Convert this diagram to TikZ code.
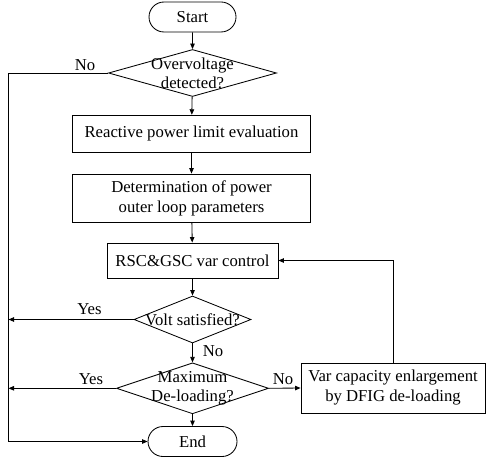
\documentclass[tikz,border=0pt]{standalone}
\usepackage{fontspec}
\setmainfont{Liberation Serif}
\usetikzlibrary{shapes.geometric,shapes.misc,arrows.meta}
\begin{document}
\begin{tikzpicture}[x=1pt,y=-1pt,
  every node/.style={font=\fontsize{16.7}{20}\selectfont},
  line/.style={draw=black,line width=0.85pt},
  arr/.style={line,-{Triangle[length=5.5pt,width=4.5pt]}},
  term/.style={rounded rectangle,draw,line width=0.85pt,inner sep=0pt,minimum width=87pt,minimum height=30pt},
  proc/.style={rectangle,draw,line width=0.85pt,inner sep=0pt,align=center},
  decision/.style={diamond,draw,line width=0.85pt,inner sep=0pt},
  lbl/.style={inner sep=0pt}]
\useasboundingbox (0,0) rectangle (486,457);
\node[term] (start) at (192.5,17) {Start};
\node[decision,minimum width=168pt,minimum height=47pt,
  label={[align=center,inner sep=0pt,font=\fontsize{16.7}{19}\selectfont]center:Overvoltage\\detected?}] (d1) at (192.5,73) {};
\node[proc,minimum width=238pt,minimum height=37pt] (r1) at (191.5,133.7) {Reactive power limit evaluation};
\node[proc,minimum width=238pt,minimum height=48pt] (r2) at (191.5,198) {Determination of power\\outer loop parameters};
\node[proc,minimum width=171pt,minimum height=35pt] (r3) at (192.5,260.5) {RSC\&GSC var control};
\node[decision,minimum width=117pt,minimum height=47pt,
  label={[inner sep=0pt]center:Volt satisfied?}] (d2) at (192.5,319.5) {};
\node[decision,minimum width=152pt,minimum height=51pt,
  label={[align=center,inner sep=0pt,font=\fontsize{16.7}{19}\selectfont]center:Maximum\\De-loading?}] (d3) at (192.5,388.3) {};
\node[proc,minimum width=184pt,minimum height=50pt] (var) at (393,388) {Var capacity enlargement\\by DFIG de-loading};
\node[term,minimum width=89pt] (end) at (192.5,441.5) {End};
\coordinate (lt) at (8.5,73);
\coordinate (lb) at (8.5,441.5);
\coordinate (y1) at (8.5,319.5);
\coordinate (y2) at (8.5,388.3);
\coordinate (fb) at (393,260.5);
\draw[arr] (start) -- (d1);
\draw[arr] (d1) -- (r1);
\draw[arr] (r1) -- (r2);
\draw[arr] (r2) -- (r3);
\draw[arr] (r3) -- (d2);
\draw[arr] (d2) -- (d3);
\draw[arr] (d3) -- (end);
\draw[arr] (d1.west) -- (lt) -- (lb) -- (end.west);
\draw[arr] (d2.west) -- (y1);
\draw[arr] (d3.west) -- (y2);
\draw[arr] (d3.east) -- (var.west);
\draw[arr] (var.north) -- (fb) -- (r3.east);
\node[lbl] (no1) at (85,65) {No};
\node[lbl] (yes1) at (89.5,309) {Yes};
\node[lbl] (yes2) at (91,379) {Yes};
\node[lbl] (no2) at (213,351) {No};
\node[lbl] (no3) at (283,379) {No};
\end{tikzpicture}
\end{document}
